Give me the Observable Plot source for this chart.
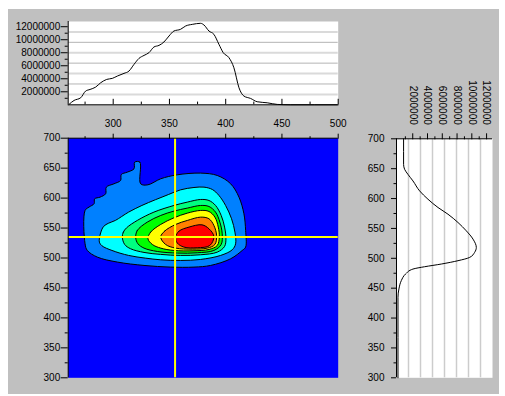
<!DOCTYPE html>
<html><head><meta charset="utf-8">
<script src="https://cdn.jsdelivr.net/npm/d3@7"></script>
<script src="https://cdn.jsdelivr.net/npm/@observablehq/plot@0.6"></script>
<style>
html,body{margin:0;padding:0;background:#fff;overflow:hidden;}
#page{position:relative;width:505px;height:396px;}
#bg{position:absolute;left:8px;top:9px;width:491px;height:385px;background:#c0c0c0;}
#page svg{position:absolute;left:0;top:0;}
</style></head><body><div id="page"><div id="bg"></div></div>
<script>
// ---------- data ----------
const excitationRange = [260, 500];
const emissionRange = [300, 700];
const topCountRange = [0, 12.8e6];
const rightCountRange = [-0.2e6, 12.8e6];

const excitationMajor = [300, 350, 400, 450, 500];
const excitationMinor = [275, 325, 375, 425, 475];
const emissionMajor = [300, 350, 400, 450, 500, 550, 600, 650, 700];
const emissionMinor = [325, 375, 425, 475, 525, 575, 625, 675];
const countMajor = [2e6, 4e6, 6e6, 8e6, 10e6, 12e6];
const countMinor = [1e6, 3e6, 5e6, 7e6, 9e6, 11e6];
const countLabels = ["2000000", "4000000", "6000000", "8000000", "10000000", "12000000"];

// excitation projection (top): wavelength, counts in millions
const excitationX = [260.7,265.2,271.1,275.5,279.4,284.4,288.9,294.2,299.2,303.7,309.6,314.0,318.5,322.9,327.4,331.8,336.2,340.7,345.1,349.6,354.0,359.9,364.4,370.3,377.7,380.7,385.1,389.5,394.0,397.8,402.9,407.3,411.8,416.2,422.1,428.0,436.9,445.8,457.6,500];
const excitationCounts = [0.06,0.67,1.08,2.11,2.36,2.72,3.39,3.90,4.06,4.42,4.83,5.18,6.21,7.13,7.59,8.01,8.88,9.13,9.65,10.57,11.34,11.60,12.11,12.36,12.52,12.26,11.34,10.83,9.29,8.01,7.24,5.69,2.62,1.34,0.98,0.47,0.31,0.06,0,0];

// emission projection (right): wavelength, counts in millions
const emissionY = [700,657.2,648.9,640.5,629.5,612.8,598.9,585,573.8,559.9,546,532.1,518.2,509.9,501.5,496,490.4,485.9,482,473.7,462.6,448.7,434.8,300];
const emissionCounts = [0.76,0.76,0.90,1.35,2.03,2.93,4.06,5.42,6.77,8.13,9.25,10.16,10.61,10.38,9.71,8.13,5.87,3.61,2.03,1.03,0.45,0.13,0,0];

// contour polygons [excitation, emission], outer to inner
const contourLevel1 = [[319.1,660],[323.8,660],[324.4,623.9],[330.9,622.2],[342.2,632.2],[357.0,638.9],[377.7,641.7],[392.5,637.8],[404.4,623.9],[411.8,601.6],[416.2,573.8],[417.7,546],[417.7,518.2],[414.7,512.6],[404.4,498.7],[386.6,487.6],[371.8,484.8],[351.1,484.8],[327.4,487.6],[303.7,493.2],[285.9,501.5],[277,512.6],[275,523.7],[275,579.4],[278.5,585],[283,590.6],[283.5,598.8],[288.3,601.6],[293.3,607.2],[293.9,618.3],[300.7,623.9],[306.6,629.5],[307.2,639.4],[312.5,643.3],[318.5,648.9]];
const contourLevel2 = [[287.7,526.5],[288.6,540.4],[291.5,552.7],[296,558.2],[301.9,562.7],[313.7,576.6],[325.5,587.7],[337.4,597.2],[349.3,606.1],[359.9,613.8],[371.8,617.7],[380.7,618.3],[388.1,614.4],[394,604.4],[399.9,587.7],[405.2,565.5],[408.2,543.2],[408.8,523.7],[405.8,513.7],[395.5,504.3],[377.7,497.6],[359.9,495.9],[342.2,497],[328.6,499.8],[313.7,504.3],[298.9,512.6],[290,520.4]];
const contourLevel3 = [[308.1,534.9],[309,543.2],[311.9,550.4],[321.4,562.7],[336.2,576.6],[354,587.7],[365.9,593.3],[377.7,597.7],[385.1,596],[391,587.7],[396,571],[399,551.6],[400.2,532.1],[399,519.3],[392.5,509.8],[377.7,505.4],[359.9,504.3],[342.2,506],[327.4,509.3],[315.5,515.4],[310.2,522.6]];
const contourLevel4 = [[320,533.8],[321.4,546],[330.3,559.9],[342.2,571],[354,578.3],[365.9,583.3],[377.7,587.7],[385.1,586],[391,576.6],[394.8,559.9],[396.9,540.4],[396,522.6],[389.5,512.6],[374.7,508.7],[357,508.2],[339.2,510.9],[327.4,516.5],[322,523.7]];
const contourLevel5 = [[330.9,532.1],[333.3,543.2],[342.2,556],[354,567.1],[365.9,574.9],[377.7,579.4],[385.1,577.7],[390.4,568.2],[393.4,551.6],[394.3,534.9],[392.5,520.9],[385.1,514.3],[371.8,512.1],[354,512.6],[342.2,516.5],[334.8,522.6]];
const contourLevel6 = [[342.2,534.9],[345.7,544.9],[355.5,556],[365.9,562.7],[377.7,568.2],[385.1,565.5],[389.5,554.3],[391.9,537.6],[390.4,522.6],[383.6,516.5],[370.3,514.8],[355.5,516.5],[346.6,522.6]];
const contourLevel7 = [[355.5,534.9],[358.5,544.9],[367.4,551.6],[378.9,555.4],[385.1,548.8],[389.5,536],[385.9,520.9],[374.7,517.1],[362.9,518.2],[357,524.9]];
const levelColors = ["#0080ff", "#00ffff", "#00ff80", "#00ff00", "#ffff00", "#ff8000", "#ff0000"];

const crossX = 355;
const crossY = 535;

// ---------- layout ----------
const W = 505, H = 396;
const font = "'Liberation Sans', Arial, Helvetica, sans-serif";
const mainBox = {left: 67.7, top: 137.7, right: 337.7, bottom: 377.3};
const topBox = {left: 67.7, top: 21, right: 337.7, bottom: 104.3};
const rightBox = {left: 396, top: 138.3, right: 492, bottom: 377.3};
const box = b => ({width: W, height: H, marginLeft: b.left, marginTop: b.top, marginRight: W - b.right, marginBottom: H - b.bottom});
const baseStyle = {background: "transparent", fontFamily: font, fontSize: "10px", color: "#000", overflow: "visible"};
const blank = () => "";
const labelOf = d => countLabels[countMajor.indexOf(d)];

const contours = [contourLevel1, contourLevel2, contourLevel3, contourLevel4, contourLevel5, contourLevel6, contourLevel7];
const excitationTable = excitationX.map((x, i) => ({x, v: excitationCounts[i] * 1e6}));
const emissionTable = emissionY.map((y, i) => ({y, v: emissionCounts[i] * 1e6}));
const eighths = (r) => d3.range(1, 8).map(k => r[0] + (r[1] - r[0]) * k / 8);
const topGrid = eighths(topCountRange);
const rightGrid = eighths(rightCountRange);

const page = document.getElementById("page");

// ---------- main contour plot ----------
const mainPlot = Plot.plot({
  ...box(mainBox),
  style: baseStyle,
  x: {domain: excitationRange, axis: null, label: null},
  y: {domain: emissionRange, axis: null, label: null},
  marks: [
    Plot.frame({fill: "#0000ff", stroke: "none"}),
    ...contours.map((pts, i) => Plot.line(pts, {
      x: d => d[0], y: d => d[1], fill: levelColors[i], stroke: "#000",
      strokeWidth: 1, curve: "catmull-rom-closed", clip: true
    })),
    Plot.ruleX([crossX], {stroke: "#ffff00", strokeWidth: 2}),
    Plot.ruleY([crossY], {stroke: "#ffff00", strokeWidth: 2}),
    Plot.ruleX([excitationRange[0]], {stroke: "#000"}),
    Plot.ruleY([emissionRange[1]], {stroke: "#000"}),
    Plot.axisY(emissionMajor, {anchor: "left", tickSize: 7, tickPadding: 1, label: null}),
    Plot.axisY(emissionMinor, {anchor: "left", tickSize: 3, tickFormat: blank, label: null}),
    Plot.axisX(excitationMajor, {anchor: "top", tickSize: 5, tickPadding: 6, label: null}),
    Plot.axisX(excitationMinor, {anchor: "top", tickSize: 2.5, tickFormat: blank, label: null})
  ]
});
page.appendChild(mainPlot);

// ---------- top projection ----------
const topH = topBox.bottom - topBox.top;
const topPlot = Plot.plot({
  ...box(topBox),
  style: baseStyle,
  x: {domain: excitationRange, axis: null, label: null},
  y: {domain: topCountRange, axis: null, label: null},
  marks: [
    Plot.frame({fill: "#fff", stroke: "none"}),
    Plot.ruleY(topGrid.filter((d, i) => i % 2 === 0), {stroke: "#dadada", strokeWidth: 2}),
    Plot.ruleY(topGrid.filter((d, i) => i % 2 === 1), {stroke: "#b4b4b4", strokeWidth: 1}),
    Plot.line(excitationTable, {x: "x", y: "v", stroke: "#000", strokeWidth: 1, curve: "monotone-x"}),
    Plot.ruleX([excitationRange[0]], {stroke: "#000"}),
    Plot.ruleY([topCountRange[0]], {stroke: "#000"}),
    Plot.tickX(excitationMajor, {x: d => d, insetTop: topH - 5.5, stroke: "#000"}),
    Plot.tickX(excitationMinor, {x: d => d, insetTop: topH - 2.7, stroke: "#000"}),
    Plot.axisY(countMajor, {anchor: "left", tickSize: 7, tickPadding: 1, tickFormat: labelOf, label: null}),
    Plot.axisY(countMinor, {anchor: "left", tickSize: 3, tickFormat: blank, label: null})
  ]
});
page.appendChild(topPlot);

// ---------- right projection ----------
const rightPlot = Plot.plot({
  ...box(rightBox),
  style: baseStyle,
  x: {domain: rightCountRange, axis: null, label: null},
  y: {domain: emissionRange, axis: null, label: null},
  marks: [
    Plot.frame({fill: "#fff", stroke: "none"}),
    Plot.ruleX(rightGrid, {stroke: "#cccccc", strokeWidth: 1.5}),
    Plot.line(emissionTable, {x: "v", y: "y", stroke: "#000", strokeWidth: 1, curve: "monotone-y"}),
    Plot.ruleX([rightCountRange[0]], {stroke: "#000"}),
    Plot.ruleY([emissionRange[1]], {stroke: "#000"}),
    Plot.axisY(emissionMajor, {anchor: "left", tickSize: 5, tickPadding: 7, label: null}),
    Plot.axisY(emissionMinor, {anchor: "left", tickSize: 2.5, tickFormat: blank, label: null}),
    Plot.axisX(countMajor, {anchor: "top", tickSize: 6, tickFormat: blank, label: null}),
    Plot.axisX(countMinor, {anchor: "top", tickSize: 3, tickFormat: blank, label: null}),
    Plot.text(countMajor, {x: d => d, text: labelOf, frameAnchor: "top", dy: -14, rotate: 90,
      textAnchor: "end", lineAnchor: "middle", fontSize: 10, fill: "#000"})
  ]
});
page.appendChild(rightPlot);
</script></body></html>
